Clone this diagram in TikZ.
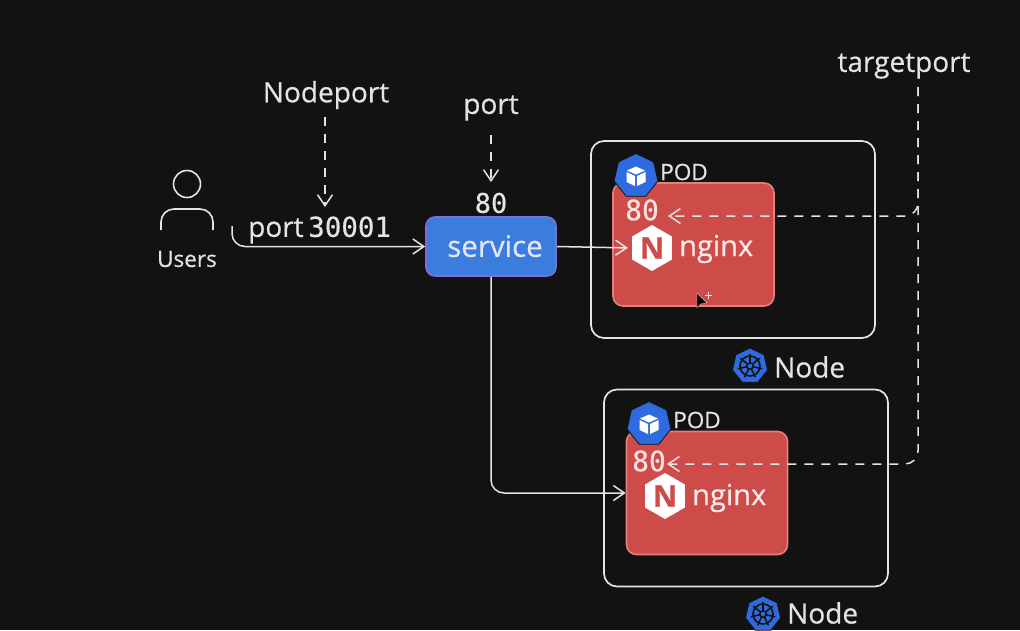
\documentclass[tikz,border=0pt]{standalone}
\usepackage{fontspec}
\setmainfont{Open Sans}[FakeBold=0.45]
\newfontfamily\monof{DejaVu Sans Mono}[FakeBold=0.5]
\usetikzlibrary{arrows.meta,shapes.geometric}
\definecolor{bgc}{HTML}{121212}
\definecolor{linec}{HTML}{E4E4E4}
\definecolor{redc}{HTML}{CD4B49}
\definecolor{redb}{HTML}{E57F7C}
\definecolor{bluec}{HTML}{3B7DDD}
\definecolor{blueb}{HTML}{7C6FD8}
\definecolor{kube}{HTML}{2F6BDE}
\tikzset{
 x=1pt,y=-1pt,
 conn/.style={draw=linec,line width=1.5pt,rounded corners=13pt,-{Straight Barb[length=11pt,width=15pt,line width=1.5pt]}},
 dashconn/.style={conn,dash pattern=on 9pt off 8pt},
 nodebox/.style={draw=linec,line width=1.7pt,rounded corners=13pt,minimum width=284pt,minimum height=197pt,inner sep=0},
 podbox/.style={draw=redb,fill=redc,line width=1.6pt,rounded corners=10pt,minimum width=161pt,minimum height=123pt,inner sep=0},
 svcbox/.style={draw=blueb,fill=bluec,line width=1.6pt,rounded corners=9pt,minimum width=130pt,minimum height=59pt,inner sep=0,text=white!90!blue,font=\fontsize{29.5}{30}\selectfont},
 lab/.style={text=linec,inner sep=0,font=\fontsize{28}{30}\selectfont},
 nodelab/.style={text=linec,inner sep=0,font=\fontsize{28}{28}\selectfont},
 smalllab/.style={text=linec,inner sep=0,font=\fontsize{22.5}{24}\selectfont},
 numlab/.style={text=linec,inner sep=0,font=\monof\fontsize{27}{30}\selectfont},
 podnum/.style={text=white!88!red,inner sep=0,font=\monof\fontsize{28}{30}\selectfont},
 hepta/.style={regular polygon,regular polygon sides=7,fill=kube,draw=bgc,line width=.8pt,inner sep=0,minimum size=#1},
 nginxhex/.style={regular polygon,regular polygon sides=6,shape border rotate=30,fill=white,draw=none,inner sep=0,minimum size=46pt,text=redc,font=\bfseries\fontsize{30}{30}\selectfont},
 ngtext/.style={text=white!92!red,inner sep=0,font=\fontsize{29}{30}\selectfont},
 cubeicon/.pic={
   \fill[white] (0,-9.5) -- (9,-5.5) -- (0,-1.5) -- (-9,-5.5) -- cycle;
   \fill[white] (-9.5,-4) -- (-1,0) -- (-1,10) -- (-9.5,6) -- cycle;
   \fill[white] (9.5,-4) -- (1,0) -- (1,10) -- (9.5,6) -- cycle;
 },
 wheelicon/.pic={
   \draw[bgc,line width=1.6pt] (0,0) circle (10);
   \draw[bgc,line width=1.4pt] (0,0) circle (3.2);
   \foreach \a in {90,141.4,192.9,244.3,295.7,347.1,38.6}
     \draw[bgc,line width=1.5pt] (\a:-3) -- (\a:-12.5);
 },
}
\begin{document}
\begin{tikzpicture}
\useasboundingbox[fill=bgc] (0,0) rectangle (1020,630);

% boxes
\node[nodebox] (node1) at (733,239.5) {};
\node[nodebox] (node2) at (746,488) {};
\node[podbox] (pod1) at (693.5,244.5) {};
\node[podbox] (pod2) at (707,493) {};
\node[svcbox] (service) at (491,246.5) {\raisebox{1pt}{\hspace{8pt}service}};

% labels
\node[lab] (nodeport) at (326,95) {Nodeport};
\node[lab] (portlab) at (491,108) {port};
\node[lab] (targetport) at (904,66) {targetport};
\node[numlab] (eighty) at (491,203) {80};
\node[lab,anchor=west] (p30001) at (248,230) {port\,\monof\fontsize{27.5}{30}\selectfont 30001};
\node[smalllab] (users) at (187,259) {Users};

% user icon
\node[circle,draw=linec,line width=1.6pt,minimum size=27pt,inner sep=0] (uhead) at (187,184) {};
\coordinate (ul) at (161,230);
\coordinate (ur) at (213,230);
\coordinate (utop) at (187,209);
\draw[linec,line width=1.6pt,rounded corners=13pt] (ul) |- (utop) -| (ur);

% pods content
\node[hepta=45pt] (pi1) at (636,176) {};
\pic at (pi1) {cubeicon};
\node[smalllab] (podl1) at (684,172) {POD};
\node[podnum] (n1) at (642,210) {80};
\node[nginxhex] (ng1) at (652,248) {N};
\node[ngtext,anchor=west] (ngt1) at (679,249) {nginx};

\node[hepta=45pt] (pi2) at (649,424) {};
\pic at (pi2) {cubeicon};
\node[smalllab] (podl2) at (697,420) {POD};
\node[podnum] (n2) at (649,461) {80};
\node[nginxhex] (ng2) at (665,496) {N};
\node[ngtext,anchor=west] (ngt2) at (692,498) {nginx};

% Node labels
\node[hepta=36pt] (ki1) at (750,366) {};
\pic at (ki1) {wheelicon};
\node[nodelab,anchor=west] (nl1) at (774,367) {Node};
\node[hepta=36pt] (ki2) at (763,614) {};
\pic at (ki2) {wheelicon};
\node[nodelab,anchor=west] (nl2) at (787,613) {Node};

% cursor
\coordinate (cur) at (697,293);
\fill[black,draw=white!60!redc,line width=.4pt] (cur) -- ++(0,15) -- ++(3.5,-4) -- ++(6.5,-1) -- cycle;
\draw[white!85!redc,line width=1pt] (708,291.5) -- (708,298.5) (704.5,295) -- (711.5,295);

% connectors
\coordinate (ustart) at (232,226);
\draw[conn] (ustart) |- (service.west);
\draw[conn,shorten >=4pt] (service.east) -- (ng1.west);
\draw[conn] (service.south) |- (pod2.west);
\coordinate (npend) at (325,207);
\coordinate (pend) at (491,182);
\draw[dashconn] (nodeport.south) ++(-1,8) -- (npend);
\draw[dashconn] (portlab.south) ++(0,14) -- (pend);
\coordinate (tstart) at (918,87);
\coordinate (tc1) at (918,216);
\coordinate (tc2) at (918,464);
\draw[dashconn] (tstart) -- (tc1) -- ([xshift=9pt]tc1 -| n1.east);
\draw[dashconn] (tstart) -- (tc2) -- ([xshift=1pt]tc2 -| n2.east);
\end{tikzpicture}
\end{document}
